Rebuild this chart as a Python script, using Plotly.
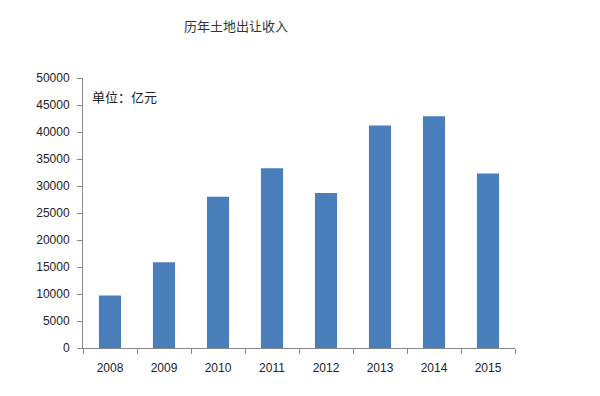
import plotly.graph_objects as go

years = ["2008", "2009", "2010", "2011", "2012", "2013", "2014", "2015"]
revenue = [9700, 15900, 28000, 33300, 28700, 41200, 42900, 32300]
y_ticks = [0, 5000, 10000, 15000, 20000, 25000, 30000, 35000, 40000, 45000, 50000]

W, H = 592, 388  # page body has an 8px default margin

fig = go.Figure(go.Bar(x=years, y=revenue, marker=dict(color="#4A7EBB", line=dict(width=0)), width=0.41))

fig.update_layout(
    width=W, height=H,
    margin=dict(l=75, r=85, t=70, b=48),
    plot_bgcolor="white", paper_bgcolor="white",
    showlegend=False,
    font=dict(family="Liberation Sans, Arial, sans-serif", size=12, color="#222"),
    title=dict(text="历年土地出让收入", x=228/W, xanchor="center", y=1-18/H, yanchor="middle",
               font=dict(family="Noto Sans CJK SC", size=13, color="#333")),
    annotations=[dict(text="单位：亿元", xref="paper", yref="paper", x=(90-83)/432, y=(348-96)/270,
                      xanchor="left", yanchor="middle", showarrow=False,
                      font=dict(family="Noto Sans CJK SC", size=13, color="#222"))],
)
fig.update_xaxes(type="category", showline=True, linecolor="#888", linewidth=1,
                 ticks="outside", tickson="boundaries", ticklen=5, tickcolor="#888",
                 showgrid=False, tickfont=dict(size=12), automargin=False,
                 ticklabelstandoff=9)
fig.update_yaxes(range=[0, 50000], tickvals=y_ticks, ticktext=[str(v) for v in y_ticks],
                 showline=True, linecolor="#888", linewidth=1, ticks="outside", ticklen=5,
                 tickcolor="#888", showgrid=False, zeroline=False, tickfont=dict(size=12),
                 automargin=False, ticklabelstandoff=5)

fig.write_html("out.html")
